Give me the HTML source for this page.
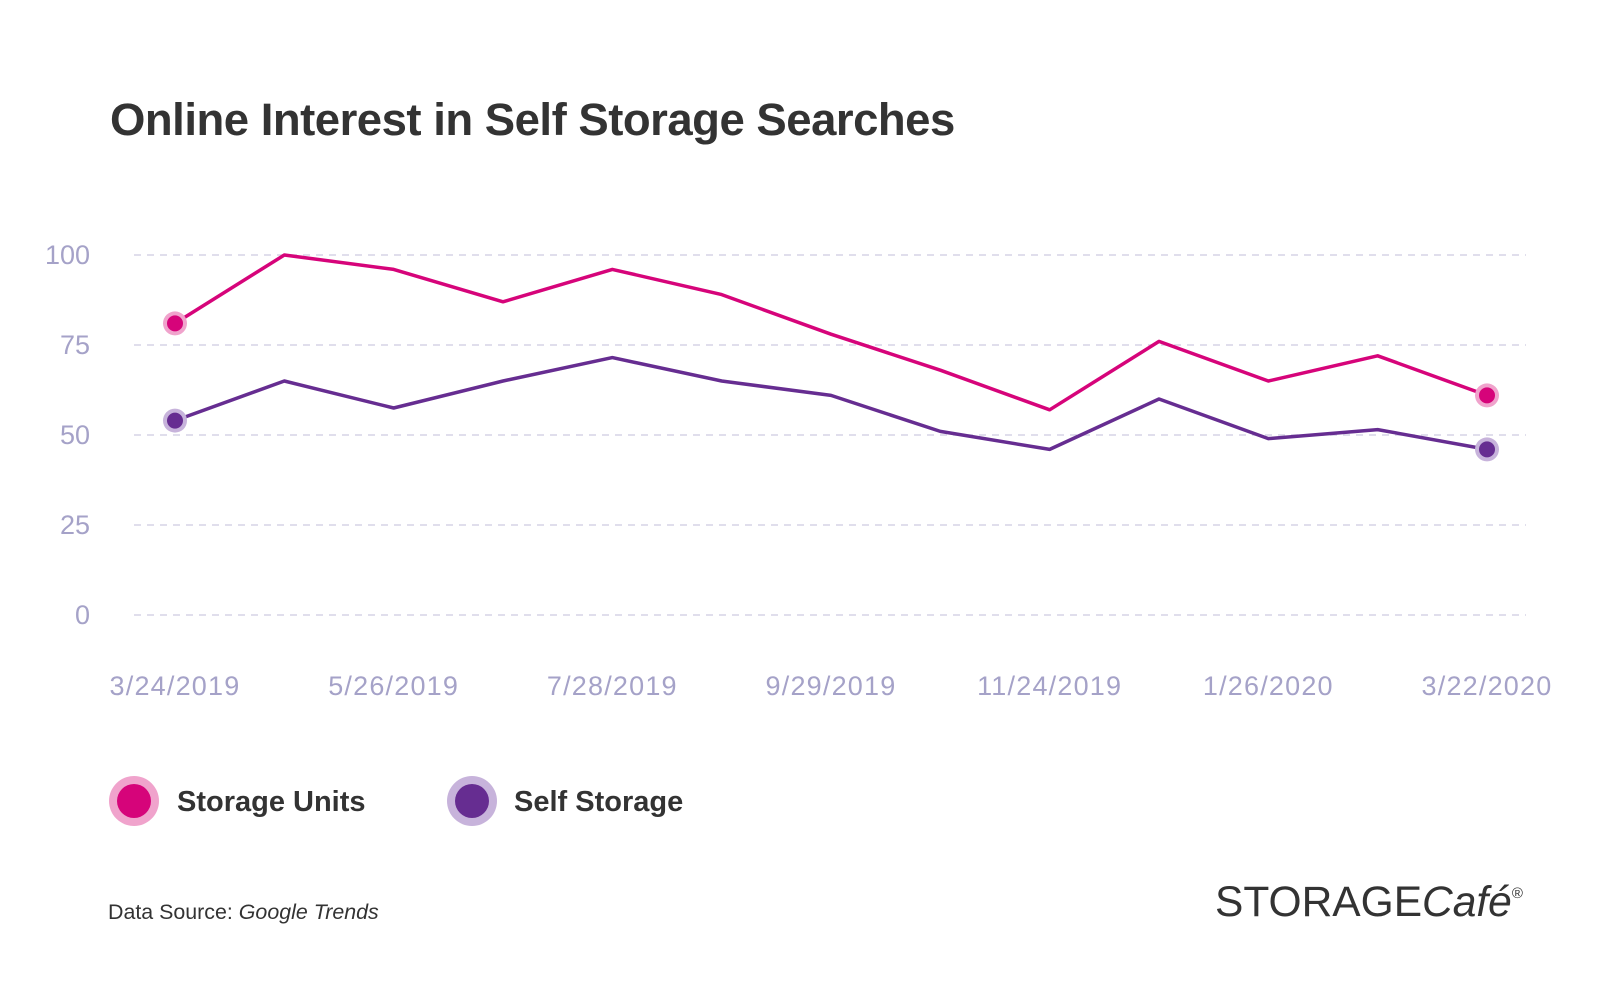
<!DOCTYPE html>
<html><head><meta charset="utf-8"><style>
body{margin:0;background:#fff;}
svg{display:block;font-family:"Liberation Sans",sans-serif;}
</style></head><body>
<svg width="1601" height="996" viewBox="0 0 1601 996">
<text x="110" y="135" font-size="45.5" font-weight="bold" fill="#333" letter-spacing="-0.5">Online Interest in Self Storage Searches</text>
<g id="grid"></g><g id="yt"></g><g id="xt"></g><g id="series"></g>
<g>
<g>
<circle cx="134" cy="801" r="25" fill="#f0a3cc"/><circle cx="134" cy="801" r="17" fill="#d6047a"/>
<text x="177" y="811" font-size="29" font-weight="bold" fill="#333">Storage Units</text></g>
<g>
<circle cx="472" cy="801" r="25" fill="#c7b3db"/><circle cx="472" cy="801" r="17" fill="#662d91"/>
<text x="514" y="811" font-size="29" font-weight="bold" fill="#333">Self Storage</text></g>
</g>
<text x="108" y="919" font-size="21.4" fill="#333">Data Source: <tspan font-style="italic">Google Trends</tspan></text>
<text x="1215" y="916" font-size="42.5" fill="#333">STORAGE<tspan font-style="italic">Café</tspan><tspan font-size="15" dy="-18">®</tspan></text>
</svg>
<script>
const categories=["3/24/2019","4/21/2019","5/26/2019","6/23/2019","7/28/2019","8/25/2019","9/29/2019","10/27/2019","11/24/2019","12/22/2019","1/26/2020","2/23/2020","3/22/2020"];
const storageUnits=[81,100,96,87,96,89,78,68,57,76,65,72,61];
const selfStorage=[54,65,57.5,65,71.5,65,61,51,46,60,49,51.5,46];
const yTicks=[0,25,50,75,100];
const xLabelIdx=[0,2,4,6,8,10,12];
const NS="http://www.w3.org/2000/svg";
const x=i=>175+i*(1487-175)/(categories.length-1);
const y=v=>615-v*3.6;
function mk(t,a,p){const e=document.createElementNS(NS,t);for(const k in a)e.setAttribute(k,a[k]);p.appendChild(e);return e;}
const grid=document.getElementById('grid'),yt=document.getElementById('yt'),xt=document.getElementById('xt'),se=document.getElementById('series');
yTicks.forEach(v=>{
 const l=mk('line',{x1:134,x2:1526,y1:y(v),y2:y(v),stroke:'#d6d4e6','stroke-width':1.5,'stroke-dasharray':'7 6'},grid);
 
 
 const t=mk('text',{x:90,y:y(v)+9,'font-size':27,fill:'#a5a2c8','text-anchor':'end'},yt);t.textContent=v;
 
 
});
xLabelIdx.forEach(i=>{
 const t=mk('text',{x:x(i),y:695,'font-size':27,fill:'#a5a2c8','text-anchor':'middle','letter-spacing':1.2},xt);t.textContent=categories[i];
 
 
});
function draw(vals,col,halo,name){
 const p=mk('polyline',{points:vals.map((v,i)=>x(i)+','+y(v)).join(' '),fill:'none',stroke:col,'stroke-width':3.5,'stroke-linejoin':'round'},se);
 
 
 [0,vals.length-1].forEach(i=>{
  const h=mk('circle',{cx:x(i),cy:y(vals[i]),r:12,fill:halo},se);
  
  
  const c=mk('circle',{cx:x(i),cy:y(vals[i]),r:8,fill:col},se);
  
  
 });
}
draw(selfStorage,'#662d91','#c7b3db','self-storage');
draw(storageUnits,'#d6047a','#f0a3cc','storage-units');
</script>
</body></html>
